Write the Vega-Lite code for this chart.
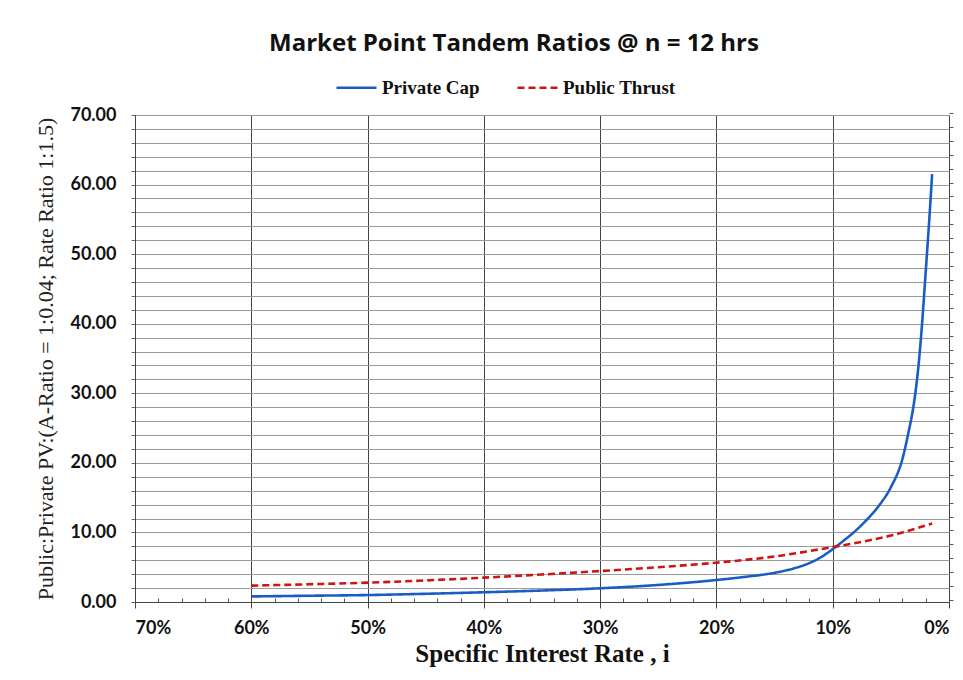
{
  "$schema": "https://vega.github.io/schema/vega-lite/v6.json",
  "width": 814,
  "height": 487,
  "padding": {"left": 34, "top": 32, "right": 14, "bottom": 5},
  "background": "white",
  "title": {
    "text": "Market Point Tandem Ratios @ n = 12 hrs",
    "font": "Open Sans",
    "fontSize": 24,
    "fontWeight": "bold",
    "color": "#111",
    "anchor": "middle",
    "dx": -28,
    "offset": 10
  },
  "data": {
    "values": [
      {"series": "Private Cap", "rate": 60, "value": 0.8},
      {"series": "Private Cap", "rate": 55, "value": 0.9},
      {"series": "Private Cap", "rate": 50, "value": 1.0},
      {"series": "Private Cap", "rate": 45, "value": 1.18},
      {"series": "Private Cap", "rate": 40, "value": 1.4},
      {"series": "Private Cap", "rate": 35, "value": 1.65},
      {"series": "Private Cap", "rate": 30, "value": 1.97},
      {"series": "Private Cap", "rate": 25, "value": 2.45},
      {"series": "Private Cap", "rate": 20, "value": 3.16},
      {"series": "Private Cap", "rate": 17.5, "value": 3.62},
      {"series": "Private Cap", "rate": 15, "value": 4.2},
      {"series": "Private Cap", "rate": 14, "value": 4.55},
      {"series": "Private Cap", "rate": 13, "value": 5.0},
      {"series": "Private Cap", "rate": 12, "value": 5.6},
      {"series": "Private Cap", "rate": 11, "value": 6.45},
      {"series": "Private Cap", "rate": 10, "value": 7.6},
      {"series": "Private Cap", "rate": 9, "value": 8.9},
      {"series": "Private Cap", "rate": 8, "value": 10.3},
      {"series": "Private Cap", "rate": 7, "value": 11.95},
      {"series": "Private Cap", "rate": 6, "value": 13.9},
      {"series": "Private Cap", "rate": 5, "value": 16.5},
      {"series": "Private Cap", "rate": 4, "value": 20.6},
      {"series": "Private Cap", "rate": 3.5, "value": 24.25},
      {"series": "Private Cap", "rate": 3, "value": 28.75},
      {"series": "Private Cap", "rate": 2.6, "value": 34.35},
      {"series": "Private Cap", "rate": 2.3, "value": 40.35},
      {"series": "Private Cap", "rate": 2.0, "value": 47.55},
      {"series": "Private Cap", "rate": 1.75, "value": 53.6},
      {"series": "Private Cap", "rate": 1.45, "value": 61.5},
      {"series": "Public Thrust", "rate": 60, "value": 2.35},
      {"series": "Public Thrust", "rate": 55, "value": 2.55},
      {"series": "Public Thrust", "rate": 50, "value": 2.78},
      {"series": "Public Thrust", "rate": 45, "value": 3.1},
      {"series": "Public Thrust", "rate": 40, "value": 3.5},
      {"series": "Public Thrust", "rate": 35, "value": 3.95},
      {"series": "Public Thrust", "rate": 30, "value": 4.45},
      {"series": "Public Thrust", "rate": 25, "value": 5.0},
      {"series": "Public Thrust", "rate": 20, "value": 5.65},
      {"series": "Public Thrust", "rate": 15, "value": 6.55},
      {"series": "Public Thrust", "rate": 10, "value": 7.9},
      {"series": "Public Thrust", "rate": 7.5, "value": 8.65},
      {"series": "Public Thrust", "rate": 5, "value": 9.55},
      {"series": "Public Thrust", "rate": 2.3, "value": 10.85},
      {"series": "Public Thrust", "rate": 1.45, "value": 11.3}
    ]
  },
  "resolve": {"axis": {"x": "independent", "y": "independent"}},
  "layer": [
    {
      "mark": {"type": "line", "opacity": 0},
      "encoding": {
        "x": {
          "field": "rate",
          "type": "quantitative",
          "scale": {"domain": [70, 0], "nice": false, "zero": false},
          "axis": {
            "orient": "bottom",
            "values": [2,4,6,8,12,14,16,18,22,24,26,28,32,34,36,38,42,44,46,48,52,54,56,58,62,64,66,68],
            "labels": false,
            "domain": false,
            "grid": false,
            "title": null,
            "ticks": true,
            "tickSize": -4,
            "tickColor": "#555"
          }
        },
        "y": {
          "field": "value",
          "type": "quantitative",
          "scale": {"domain": [0, 70], "nice": false},
          "axis": {
            "orient": "right",
            "values": [0,2,4,6,8,10,12,14,16,18,20,22,24,26,28,30,32,34,36,38,40,42,44,46,48,50,52,54,56,58,60,62,64,66,68,70],
            "labels": false,
            "domain": false,
            "grid": false,
            "title": null,
            "tickSize": 4,
            "tickOffset": -2,
            "tickColor": "#555"
          }
        },
        "detail": {"field": "series"}
      }
    },
    {
      "mark": {"type": "line", "strokeWidth": 2.6, "interpolate": "monotone"},
      "encoding": {
        "x": {
          "field": "rate",
          "type": "quantitative",
          "scale": {"domain": [70, 0], "nice": false, "zero": false},
          "axis": {
            "orient": "bottom",
            "values": [0,10,20,30,40,50,60,70],
            "labelExpr": "datum.value + '%'",
            "labelFont": "Lato",
            "labelFontSize": 18,
            "labelFontWeight": "bold",
            "labelColor": "#111",
            "labelPadding": 11,
            "tickSize": 6,
            "tickColor": "#444",
            "domainColor": "#444",
            "grid": true,
            "gridColor": "#444",
            "gridWidth": 1,
            "title": "Specific Interest Rate , i",
            "titleFont": "Liberation Serif",
            "titleFontSize": 25,
            "titleFontWeight": "bold",
            "titleColor": "#111",
            "titlePadding": 4
          }
        },
        "y": {
          "field": "value",
          "type": "quantitative",
          "scale": {"domain": [0, 70], "nice": false},
          "axis": {
            "orient": "left",
            "values": [0,2,4,6,8,10,12,14,16,18,20,22,24,26,28,30,32,34,36,38,40,42,44,46,48,50,52,54,56,58,60,62,64,66,68,70],
            "labelExpr": "datum.value % 10 == 0 ? format(datum.value, '.2f') : ''",
            "labelFont": "Lato",
            "labelFontSize": 18,
            "labelFontWeight": "bold",
            "labelColor": "#111",
            "labelPadding": 15,
            "tickSize": 4,
            "tickColor": "#666",
            "domainColor": "#444",
            "grid": true,
            "gridColor": "#9a9a9a",
            "gridWidth": 1,
            "title": "Public:Private PV:(A-Ratio = 1:0.04; Rate Ratio 1:1.5)",
            "titleFont": "Liberation Serif",
            "titleFontSize": 22,
            "titleFontWeight": "normal",
            "titleColor": "#222",
            "titlePadding": 12
          }
        },
        "color": {
          "field": "series",
          "type": "nominal",
          "scale": {"domain": ["Private Cap", "Public Thrust"], "range": ["#1a5cc4", "#cc1616"]},
          "legend": {
            "orient": "none",
            "legendX": 200,
            "legendY": -49,
            "direction": "horizontal",
            "title": null,
            "symbolType": "stroke",
            "symbolSize": 1600,
            "symbolStrokeWidth": 2.6,
            "labelFont": "Liberation Serif",
            "labelFontSize": 19,
            "labelFontWeight": "bold",
            "labelColor": "#111",
            "columnPadding": 32,
            "labelOffset": 4
          }
        },
        "strokeDash": {
          "field": "series",
          "type": "nominal",
          "scale": {"domain": ["Private Cap", "Public Thrust"], "range": [[1, 0], [7, 4]]},
          "legend": {
            "orient": "none",
            "legendX": 200,
            "legendY": -49,
            "direction": "horizontal",
            "title": null,
            "symbolType": "stroke",
            "symbolSize": 1600,
            "symbolStrokeWidth": 2.6,
            "labelFont": "Liberation Serif",
            "labelFontSize": 19,
            "labelFontWeight": "bold",
            "labelColor": "#111",
            "columnPadding": 32,
            "labelOffset": 4
          }
        }
      }
    }
  ],
  "config": {
    "view": {"stroke": "#555", "strokeWidth": 1}
  }
}
